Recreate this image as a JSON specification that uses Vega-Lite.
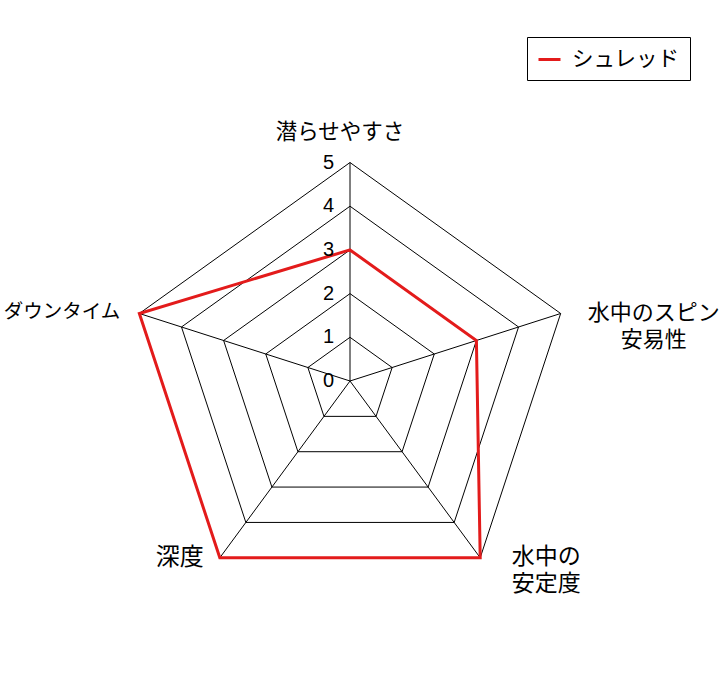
{
  "$schema": "https://vega.github.io/schema/vega-lite/v6.json",
  "width": 727,
  "height": 689,
  "autosize": "none",
  "padding": 0,
  "background": "white",
  "config": {"view": {"stroke": null}},
  "datasets": {
    "scores": [
      {"series": "シュレッド", "axis": "潜らせやすさ", "k": 0, "value": 3},
      {"series": "シュレッド", "axis": "水中のスピン安易性", "k": 1, "value": 3},
      {"series": "シュレッド", "axis": "水中の安定度", "k": 2, "value": 5},
      {"series": "シュレッド", "axis": "深度", "k": 3, "value": 5},
      {"series": "シュレッド", "axis": "ダウンタイム", "k": 4, "value": 5}
    ],
    "grid": [
      {"level": 1, "k": 0}, {"level": 1, "k": 1}, {"level": 1, "k": 2}, {"level": 1, "k": 3}, {"level": 1, "k": 4},
      {"level": 2, "k": 0}, {"level": 2, "k": 1}, {"level": 2, "k": 2}, {"level": 2, "k": 3}, {"level": 2, "k": 4},
      {"level": 3, "k": 0}, {"level": 3, "k": 1}, {"level": 3, "k": 2}, {"level": 3, "k": 3}, {"level": 3, "k": 4},
      {"level": 4, "k": 0}, {"level": 4, "k": 1}, {"level": 4, "k": 2}, {"level": 4, "k": 3}, {"level": 4, "k": 4},
      {"level": 5, "k": 0}, {"level": 5, "k": 1}, {"level": 5, "k": 2}, {"level": 5, "k": 3}, {"level": 5, "k": 4}
    ],
    "levels": [
      {"level": 0, "k": 0}, {"level": 1, "k": 0}, {"level": 2, "k": 0},
      {"level": 3, "k": 0}, {"level": 4, "k": 0}, {"level": 5, "k": 0}
    ],
    "labels": [
      {"label": "潜らせやすさ", "k": 0, "level": 5},
      {"label": "水中のスピン\n安易性", "k": 1, "level": 5},
      {"label": "水中の\n安定度", "k": 2, "level": 5},
      {"label": "深度", "k": 3, "level": 5},
      {"label": "ダウンタイム", "k": 4, "level": 5}
    ]
  },
  "encoding": {
    "x": {"field": "x", "type": "quantitative", "scale": {"domain": [-7.901, 8.51], "nice": false, "zero": false}, "axis": null},
    "y": {"field": "y", "type": "quantitative", "scale": {"domain": [-7.048, 8.719], "nice": false, "zero": false}, "axis": null}
  },
  "layer": [
    {
      "data": {"name": "grid"},
      "transform": [
        {"calculate": "datum.k * 2 * PI / 5", "as": "angle"},
        {"calculate": "datum.level * sin(datum.angle)", "as": "x"},
        {"calculate": "datum.level * cos(datum.angle)", "as": "y"}
      ],
      "mark": {"type": "line", "interpolate": "linear-closed", "stroke": "black", "strokeWidth": 1},
      "encoding": {
        "detail": {"field": "level", "type": "nominal"},
        "order": {"field": "k", "type": "quantitative"}
      }
    },
    {
      "data": {"name": "grid"},
      "transform": [
        {"filter": "datum.level == 5"},
        {"calculate": "datum.k * 2 * PI / 5", "as": "angle"},
        {"calculate": "datum.level * sin(datum.angle)", "as": "x"},
        {"calculate": "datum.level * cos(datum.angle)", "as": "y"}
      ],
      "mark": {"type": "rule", "stroke": "black", "strokeWidth": 1},
      "encoding": {
        "x": {"datum": 0, "type": "quantitative"},
        "y": {"datum": 0, "type": "quantitative"},
        "x2": {"field": "x"},
        "y2": {"field": "y"}
      }
    },
    {
      "data": {"name": "scores"},
      "transform": [
        {"calculate": "datum.k * 2 * PI / 5", "as": "angle"},
        {"calculate": "datum.value * sin(datum.angle)", "as": "x"},
        {"calculate": "datum.value * cos(datum.angle)", "as": "y"}
      ],
      "mark": {"type": "line", "interpolate": "linear-closed", "strokeWidth": 3},
      "encoding": {
        "order": {"field": "k", "type": "quantitative"},
        "color": {
          "field": "series",
          "type": "nominal",
          "scale": {"domain": ["シュレッド"], "range": ["#e31b1b"]},
          "legend": {
            "orient": "none",
            "legendX": 527,
            "legendY": 37,
            "title": null,
            "padding": 10,
            "strokeColor": "black",
            "fillColor": "white",
            "symbolType": "stroke",
            "symbolStrokeWidth": 3,
            "symbolSize": 484,
            "labelFont": "Noto Sans CJK JP",
            "labelFontSize": 21.5,
            "labelColor": "black",
            "labelOffset": 10
          }
        }
      }
    },
    {
      "data": {"name": "levels"},
      "transform": [
        {"calculate": "datum.level * sin(0)", "as": "x"},
        {"calculate": "datum.level * cos(0)", "as": "y"}
      ],
      "mark": {"type": "text", "align": "right", "baseline": "middle", "dx": -16, "font": "Liberation Sans", "fontSize": 20, "color": "black"},
      "encoding": {"text": {"field": "level", "type": "quantitative"}}
    },
    {
      "data": {"name": "labels"},
      "transform": [
        {"filter": "datum.k == 0"},
        {"calculate": "datum.k * 2 * PI / 5", "as": "angle"},
        {"calculate": "datum.level * sin(datum.angle)", "as": "x"},
        {"calculate": "datum.level * cos(datum.angle)", "as": "y"}
      ],
      "mark": {"type": "text", "align": "center", "baseline": "middle", "dx": -10, "dy": -30, "font": "Noto Sans CJK JP", "fontSize": 21.5, "color": "black", "lineBreak": "\n"},
      "encoding": {"text": {"field": "label"}}
    },
    {
      "data": {"name": "labels"},
      "transform": [
        {"filter": "datum.k == 1"},
        {"calculate": "datum.k * 2 * PI / 5", "as": "angle"},
        {"calculate": "datum.level * sin(datum.angle)", "as": "x"},
        {"calculate": "datum.level * cos(datum.angle)", "as": "y"}
      ],
      "mark": {"type": "text", "align": "center", "baseline": "middle", "dx": 93, "dy": 0, "lineHeight": 27, "font": "Noto Sans CJK JP", "fontSize": 22, "color": "black", "lineBreak": "\n"},
      "encoding": {"text": {"field": "label"}}
    },
    {
      "data": {"name": "labels"},
      "transform": [
        {"filter": "datum.k == 2"},
        {"calculate": "datum.k * 2 * PI / 5", "as": "angle"},
        {"calculate": "datum.level * sin(datum.angle)", "as": "x"},
        {"calculate": "datum.level * cos(datum.angle)", "as": "y"}
      ],
      "mark": {"type": "text", "align": "center", "baseline": "middle", "dx": 66, "dy": -1, "lineHeight": 27, "font": "Noto Sans CJK JP", "fontSize": 23, "color": "black", "lineBreak": "\n"},
      "encoding": {"text": {"field": "label"}}
    },
    {
      "data": {"name": "labels"},
      "transform": [
        {"filter": "datum.k == 3"},
        {"calculate": "datum.k * 2 * PI / 5", "as": "angle"},
        {"calculate": "datum.level * sin(datum.angle)", "as": "x"},
        {"calculate": "datum.level * cos(datum.angle)", "as": "y"}
      ],
      "mark": {"type": "text", "align": "right", "baseline": "middle", "dx": -16, "dy": 0, "font": "Noto Sans CJK JP", "fontSize": 24, "color": "black", "lineBreak": "\n"},
      "encoding": {"text": {"field": "label"}}
    },
    {
      "data": {"name": "labels"},
      "transform": [
        {"filter": "datum.k == 4"},
        {"calculate": "datum.k * 2 * PI / 5", "as": "angle"},
        {"calculate": "datum.level * sin(datum.angle)", "as": "x"},
        {"calculate": "datum.level * cos(datum.angle)", "as": "y"}
      ],
      "mark": {"type": "text", "align": "right", "baseline": "middle", "dx": -19, "dy": -1, "font": "Noto Sans CJK JP", "fontSize": 19.5, "color": "black", "lineBreak": "\n"},
      "encoding": {"text": {"field": "label"}}
    }
  ]
}
